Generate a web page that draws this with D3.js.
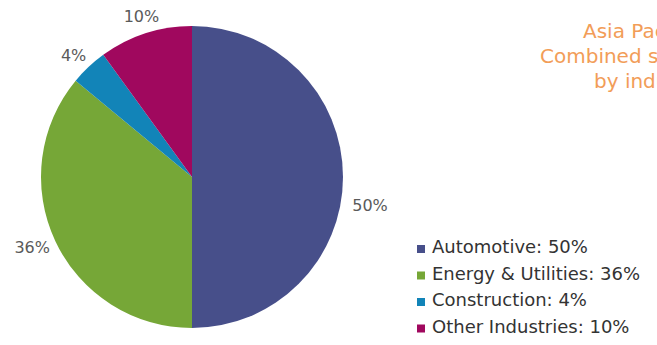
<!DOCTYPE html>
<html>
<head>
<meta charset="utf-8">
<script src="https://cdn.jsdelivr.net/npm/d3@7"></script>
<style>
  html, body { margin: 0; padding: 0; background: #fff; }
  svg { display: block; }
</style>
</head>
<body>
<svg id="chart" width="657" height="345"></svg>
<script>
// Asia Pacific combined sales share by industry
const categories = ["Automotive", "Energy & Utilities", "Construction", "Other Industries"];
const shares = [50, 36, 4, 10];
const colors = ["#474f8a", "#76a737", "#1284b8", "#a0085e"];
const titleLines = ["Asia Pacific", "Combined sales", "by industry"];

const svg = d3.select("#chart");
const cx = 192, cy = 177, r = 151;
const font = "'DejaVu Sans', 'Liberation Sans', Arial, sans-serif";

const pie = d3.pie().sort(null).value(d => d)(shares);
const arc = d3.arc().innerRadius(0).outerRadius(r);
const labelArc = d3.arc().innerRadius(170).outerRadius(170);

const g = svg.append("g").attr("transform", `translate(${cx},${cy})`);

g.selectAll("path.slice")
  .data(pie)
  .join("path")
  .attr("class", "slice")
  .attr("d", arc)
  .attr("fill", (d, i) => colors[i]);

// per-slice label nudges (px)
const nudge = [[8, 28], [-6, -2], [-2, 2], [2, 1]];
g.selectAll("text.pct")
  .data(pie)
  .join("text")
  .attr("class", "pct")
  .attr("x", (d, i) => labelArc.centroid(d)[0] + nudge[i][0])
  .attr("y", (d, i) => labelArc.centroid(d)[1] + nudge[i][1])
  .attr("dy", "0.35em")
  .attr("text-anchor", "middle")
  .attr("font-family", font)
  .attr("font-size", 16)
  .attr("fill", "#5a5a5a")
  .text(d => d.data + "%");

// title (right side, runs past the edge)
const titleX = [583, 540, 594];
svg.append("g")
  .selectAll("text")
  .data(titleLines)
  .join("text")
  .attr("x", (d, i) => titleX[i])
  .attr("y", (d, i) => 38 + i * 25)
  .attr("font-family", font)
  .attr("font-size", 20)
  .attr("fill", "#f29d58")
  .text(d => d);

// legend
const legend = svg.append("g").attr("transform", "translate(417,244)");
const rowH = 26.5;
const item = legend.selectAll("g.item")
  .data(categories)
  .join("g")
  .attr("class", "item")
  .attr("transform", (d, i) => `translate(0,${i * rowH})`);
item.append("rect")
  .attr("x", 0).attr("y", 1)
  .attr("width", 8).attr("height", 8)
  .attr("fill", (d, i) => colors[i]);
item.append("text")
  .attr("x", 15)
  .attr("y", 9)
  .attr("font-family", font)
  .attr("font-size", 18)
  .attr("fill", "#333")
  .text((d, i) => `${d}: ${shares[i]}%`);
</script>
</body>
</html>
